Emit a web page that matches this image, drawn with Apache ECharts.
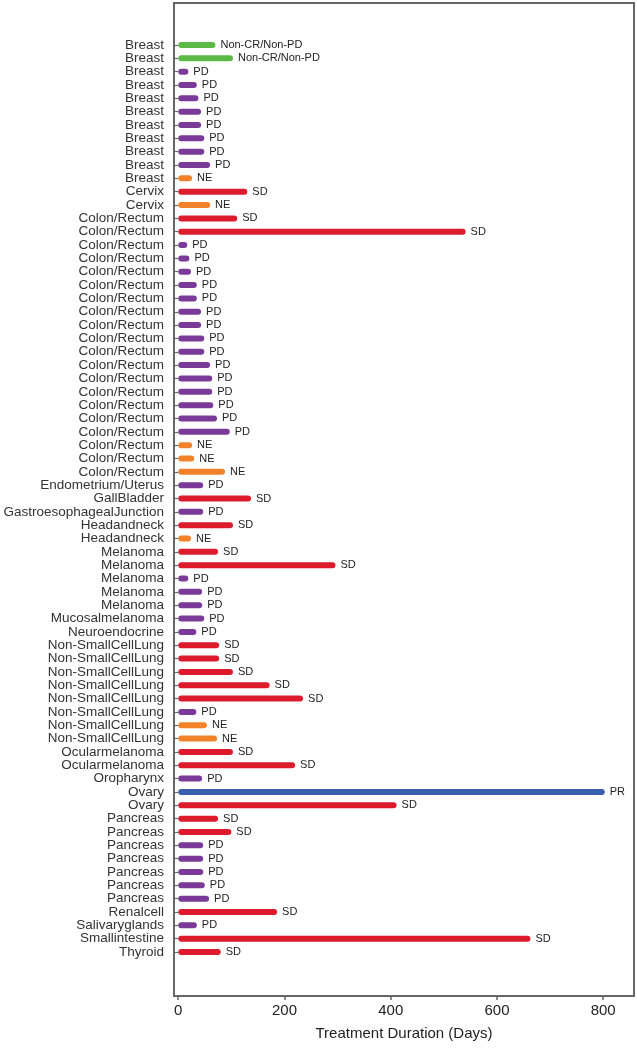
<!DOCTYPE html>
<html>
<head>
<meta charset="utf-8">
<script src="https://cdn.jsdelivr.net/npm/echarts@6/dist/echarts.min.js"></script>
<style>
html,body{margin:0;padding:0;background:#fff;}
#c{width:637px;height:1050px;}
</style>
</head>
<body>
<div id="c"></div>
<script>
const categories = [
  "Breast","Breast","Breast","Breast","Breast","Breast","Breast","Breast","Breast","Breast","Breast",
  "Cervix","Cervix",
  "Colon/Rectum","Colon/Rectum","Colon/Rectum","Colon/Rectum","Colon/Rectum","Colon/Rectum","Colon/Rectum",
  "Colon/Rectum","Colon/Rectum","Colon/Rectum","Colon/Rectum","Colon/Rectum","Colon/Rectum","Colon/Rectum",
  "Colon/Rectum","Colon/Rectum","Colon/Rectum","Colon/Rectum","Colon/Rectum","Colon/Rectum",
  "Endometrium/Uterus","GallBladder","GastroesophagealJunction","Headandneck","Headandneck",
  "Melanoma","Melanoma","Melanoma","Melanoma","Melanoma",
  "Mucosalmelanoma","Neuroendocrine",
  "Non-SmallCellLung","Non-SmallCellLung","Non-SmallCellLung","Non-SmallCellLung",
  "Non-SmallCellLung","Non-SmallCellLung","Non-SmallCellLung","Non-SmallCellLung",
  "Ocularmelanoma","Ocularmelanoma","Oropharynx","Ovary","Ovary",
  "Pancreas","Pancreas","Pancreas","Pancreas","Pancreas","Pancreas","Pancreas",
  "Renalcell","Salivaryglands","Smallintestine","Thyroid"
];
const durations = [
  70,103,19,35,38,43,43,49,49,60,26,
  130,60,
  111,541,17,21,24,35,35,43,43,49,49,60,64,64,66,73,97,26,30,88,
  47,137,47,103,24,
  75,296,19,45,45,
  49,34,
  77,77,103,172,235,34,54,73,
  103,220,45,803,411,
  75,100,47,47,47,50,58,
  186,35,663,80
];
const responses = [
  "Non-CR/Non-PD","Non-CR/Non-PD","PD","PD","PD","PD","PD","PD","PD","PD","NE",
  "SD","NE",
  "SD","SD","PD","PD","PD","PD","PD","PD","PD","PD","PD","PD","PD","PD","PD","PD","PD","NE","NE","NE",
  "PD","SD","PD","SD","NE",
  "SD","SD","PD","PD","PD",
  "PD","PD",
  "SD","SD","SD","SD","SD","PD","NE","NE",
  "SD","SD","PD","PR","SD",
  "SD","SD","PD","PD","PD","PD","PD",
  "SD","PD","SD","SD"
];
const xTicks = [0, 200, 400, 600, 800];
const responseColors = {
  "Non-CR/Non-PD": "#5cb946",
  "PD": "#7a3b98",
  "NE": "#f28229",
  "SD": "#dc1c2c",
  "PR": "#3a5fae"
};

const chart = echarts.init(document.getElementById('c'), null, {renderer: 'canvas'});
const font = '"Liberation Sans", Arial, Helvetica, sans-serif';
const XMIN = -8, XMAX = 858;

const barData = durations.map((v, i) => ({
  value: v,
  itemStyle: {color: responseColors[responses[i]]}
}));

chart.setOption({
  animation: false,
  backgroundColor: '#fff',
  grid: [
    {left: 174, right: 3, top: 3, bottom: 54, show: true, borderColor: '#666', borderWidth: 2, backgroundColor: 'transparent'},
    {left: 174, right: 3, top: 38.3, bottom: 91.3}
  ],
  xAxis: [
    {
      gridIndex: 0, type: 'value', min: XMIN, max: XMAX,
      name: 'Treatment Duration (Days)', nameLocation: 'middle', nameGap: 30,
      nameTextStyle: {fontFamily: font, fontSize: 15, color: '#222'},
      axisLine: {show: false},
      axisTick: {show: true, customValues: xTicks, length: 4, lineStyle: {color: '#666', width: 1.5}},
      axisLabel: {customValues: xTicks, fontFamily: font, fontSize: 15, color: '#222', margin: 7},
      splitLine: {show: false}
    },
    {
      gridIndex: 1, type: 'value', min: XMIN, max: XMAX, show: false,
      splitLine: {show: false}
    }
  ],
  yAxis: [
    {
      gridIndex: 0, type: 'value', show: false, splitLine: {show: false}
    },
    {
      gridIndex: 1, type: 'category', inverse: true,
      data: categories.map((c, i) => String(i)),
      axisLine: {show: false},
      axisTick: {show: true, alignWithLabel: true, length: 5, lineStyle: {color: '#666', width: 1.2}},
      axisLabel: {
        interval: 0, fontFamily: font, fontSize: 13.5, color: '#333', margin: 10,
        formatter: (v, idx) => categories[idx]
      },
      splitLine: {show: false}
    }
  ],
  series: [
    {
      type: 'bar',
      xAxisIndex: 1, yAxisIndex: 1,
      data: barData,
      barWidth: 6,
      itemStyle: {borderRadius: 3},
      label: {
        show: true, position: 'right', distance: 5,
        fontFamily: font, fontSize: 11, color: '#222',
        formatter: p => responses[p.dataIndex]
      }
    }
  ]
});
</script>
</body>
</html>
